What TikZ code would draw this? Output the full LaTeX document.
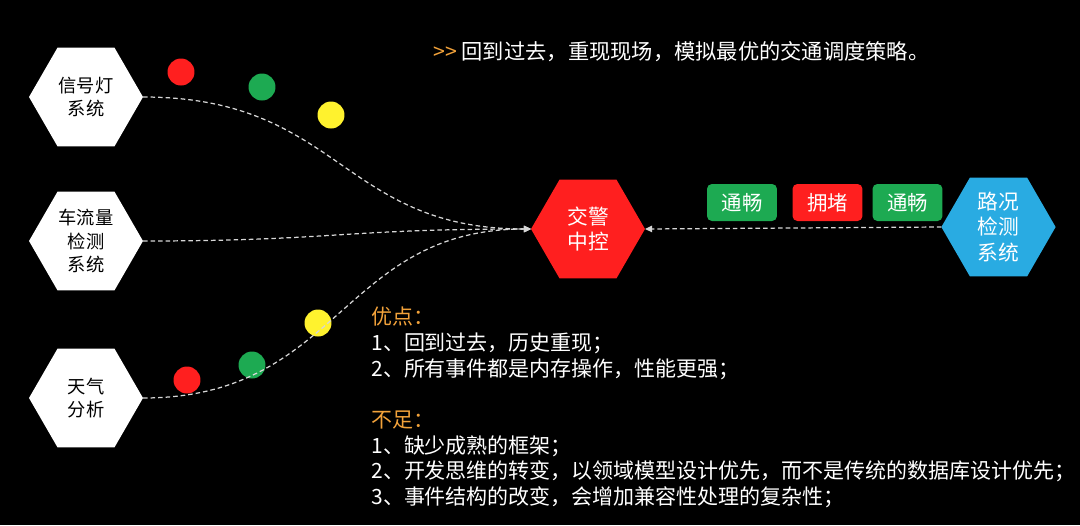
\documentclass[tikz,border=0pt]{standalone}
\usepackage{fontspec}
\setmainfont{Noto Sans CJK SC}
\usetikzlibrary{arrows.meta, shapes.geometric}

\definecolor{jred}{HTML}{FF1F1F}
\definecolor{jgreen}{HTML}{1DAA52}
\definecolor{jyellow}{HTML}{FFF22E}
\definecolor{jblue}{HTML}{29ABE2}
\definecolor{jorange}{HTML}{F2A23A}
\definecolor{dashgray}{HTML}{D6D6D6}

\begin{document}
\begin{tikzpicture}[x=0.02cm, y=-0.02cm,
    hexa/.style={regular polygon, regular polygon sides=6, minimum size=2.28cm,
      inner sep=0pt, outer sep=0pt, align=center},
    src/.style={hexa, fill=white, text=black, font=\fontsize{10.4}{13.2}\selectfont},
    hub/.style={hexa, text=white, font=\fontsize{11.8}{14.5}\selectfont},
    link/.style={draw=dashgray, line width=0.7pt, dash pattern=on 2.6pt off 1.7pt,
      -{Triangle[length=4pt, width=3.6pt]}},
    lamp/.style={circle, minimum size=0.54cm, inner sep=0pt},
    state/.style={rounded corners=2.8pt, minimum width=1.4cm, minimum height=0.74cm,
      inner sep=0pt, text=white, font=\fontsize{11.6}{14}\selectfont},
    txt/.style={text=white, inner sep=0pt, font=\fontsize{12.1}{14.6}\selectfont}]
  \useasboundingbox (0,0) rectangle (1080,525);
  \fill[black] (0,0) rectangle (1080,525);

  % Sources on the left.
  \node[src] (sig) at (86,97) {信号灯\\系统};
  \node[src] (flow) at (86,241) {车流量\\检测\\系统};
  \node[src] (wea) at (86,398) {天气\\分析};

  % Control centre and road monitor.
  \node[hub, fill=jred] (ctrl) at (588,229) {交警\\中控};
  \node[hub, fill=jblue] (road) at (998.5,227) {路况\\检测\\系统};

  % Traffic lights along the curves.
  \node[lamp, fill=jred] (r1) at (181,72) {};
  \node[lamp, fill=jgreen] (g1) at (262,87) {};
  \node[lamp, fill=jyellow] (y1) at (331,115) {};
  \node[lamp, fill=jred] (r2) at (187,380) {};
  \node[lamp, fill=jgreen] (g2) at (252,365) {};
  \node[lamp, fill=jyellow] (y2) at (318,323) {};

  % Road states.
  \node[state, fill=jgreen] (s1) at (742,202.5) {通畅};
  \node[state, fill=jred] (s2) at (827.5,202.5) {拥堵};
  \node[state, fill=jgreen] (s3) at (907.5,202.5) {通畅};

  % Links into the control centre.
  \draw[link] (sig.0) .. controls +(197,0) and +(-190,0) .. (ctrl.180);
  \draw[link] (flow.0) .. controls +(190,0) and +(-190,0) .. (ctrl.180);
  \draw[link] (wea.0) .. controls +(197,0) and +(-190,0) .. (ctrl.180);
  \draw[link] (road.180) -- (ctrl.0);

  % Texts.
  \node[txt, anchor=west] (motto) at (433,52)
    {\textcolor{jorange}{>{}>} 回到过去，重现现场，模拟最优的交通调度策略。};
  \node[txt, anchor=north west, align=left, font=\fontsize{11.95}{14.6}\selectfont]
    (notes) at (371,307)
    {\textcolor{jorange}{优点：}\\
     1、回到过去，历史重现；\\
     2、所有事件都是内存操作，性能更强；\\[14.6pt]
     \textcolor{jorange}{不足：}\\
     1、缺少成熟的框架；\\
     2、开发思维的转变，以领域模型设计优先，而不是传统的数据库设计优先；\\
     3、事件结构的改变，会增加兼容性处理的复杂性；};
\end{tikzpicture}
\end{document}
